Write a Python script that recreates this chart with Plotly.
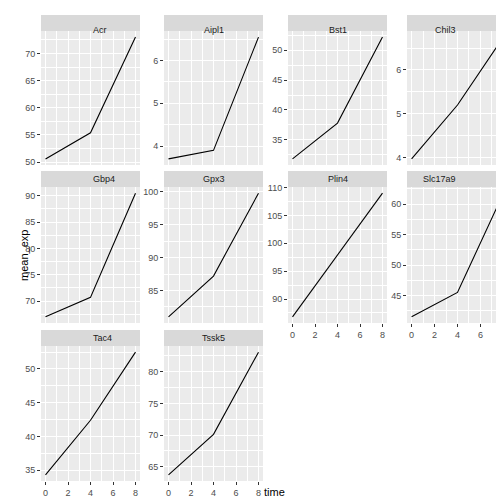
import plotly.graph_objects as go

# ==========================================
# Data
# ==========================================

time = [0, 4, 8]

genes = ["Acr", "Aipl1", "Bst1", "Chil3", "Gbp4",
         "Gpx3", "Plin4", "Slc17a9", "Tac4", "Tssk5"]

acr = [50.6, 55.4, 73.0]
aipl1 = [3.70, 3.90, 6.55]
bst1 = [31.8, 37.8, 52.2]
chil3 = [3.97, 5.20, 6.75]
gbp4 = [67.0, 70.7, 90.5]
gpx3 = [81.0, 87.2, 99.8]
plin4 = [86.8, 97.9, 109.0]
slc17a9 = [41.5, 45.5, 61.8]
tac4 = [34.3, 42.4, 52.5]
tssk5 = [63.7, 70.1, 83.1]

values = [acr, aipl1, bst1, chil3, gbp4, gpx3, plin4, slc17a9, tac4, tssk5]
y_step = [5, 1, 5, 1, 5, 5, 5, 5, 5, 5]

# ==========================================
# Layout (pixel boxes for each panel)
# ==========================================

W = 504
col_x = [(33, 132), (156, 255), (280, 379), (399, 500)]
row_y = [(23, 157), (179, 315), (338, 473)]
strip_h = 16

fig = go.Figure()


def px_x(p):
    return p / W


def px_y(p):
    return 1 - p / W


for i, (gene, vals) in enumerate(zip(genes, values)):
    r, c = divmod(i, 4)
    n = i + 1
    xa = "xaxis" if n == 1 else f"xaxis{n}"
    ya = "yaxis" if n == 1 else f"yaxis{n}"
    xr = "x" if n == 1 else f"x{n}"
    yr = "y" if n == 1 else f"y{n}"
    x0, x1 = col_x[c]
    y0, y1 = row_y[r]

    fig.add_trace(go.Scatter(
        x=time, y=vals, mode="lines",
        line=dict(color="black", width=1.1),
        xaxis=xr, yaxis=yr, showlegend=False
    ))

    lo, hi = min(vals), max(vals)
    pad = (hi - lo) * 0.05
    # x labels only on panels with nothing below them
    show_x = (r == 2) or (r == 1 and c >= 2)

    fig.layout[xa] = dict(
        domain=[px_x(x0), px_x(x1)], anchor=yr, automargin=False,
        range=[-0.4, 8.4], tickvals=[0, 2, 4, 6, 8],
        showticklabels=show_x, ticks="outside" if show_x else "",
        ticklen=3, tickcolor="#333333",
        gridcolor="white", gridwidth=1.1, zeroline=False,
        minor=dict(dtick=1, tick0=1, gridcolor="white", gridwidth=0.5),
        tickfont=dict(size=9, color="#4d4d4d"),
    )
    fig.layout[ya] = dict(
        domain=[px_y(y1), px_y(y0)], anchor=xr, automargin=False,
        range=[lo - pad, hi + pad], dtick=y_step[i],
        ticks="outside", ticklen=3, tickcolor="#333333",
        gridcolor="white", gridwidth=1.1, zeroline=False,
        minor=dict(dtick=y_step[i] / 2, gridcolor="white", gridwidth=0.5),
        tickfont=dict(size=9, color="#4d4d4d"),
    )

    # panel background
    fig.add_shape(type="rect", xref="paper", yref="paper", layer="below",
                  x0=px_x(x0), x1=px_x(x1), y0=px_y(y1), y1=px_y(y0),
                  fillcolor="#ebebeb", line_width=0)
    # strip
    fig.add_shape(type="rect", xref="paper", yref="paper",
                  x0=px_x(x0), x1=px_x(x1),
                  y0=px_y(y0), y1=px_y(y0 - strip_h),
                  fillcolor="#d9d9d9", line_width=0)
    fig.add_annotation(text=gene, xref="paper", yref="paper",
                       x=px_x((x0 + x1) / 2), y=px_y(y0 - strip_h / 2),
                       showarrow=False, font=dict(size=9, color="#1a1a1a"))

fig.add_annotation(text="time", xref="paper", yref="paper",
                   x=px_x(266), y=px_y(492), showarrow=False,
                   font=dict(size=11, color="black"))
fig.add_annotation(text="mean_exp", xref="paper", yref="paper",
                   x=px_x(8), y=px_y(248), showarrow=False, textangle=-90,
                   font=dict(size=11, color="black"))

fig.update_layout(
    width=504, height=504,
    margin=dict(l=0, r=0, t=0, b=0),
    paper_bgcolor="white", plot_bgcolor="rgba(0,0,0,0)",
    font=dict(family="Liberation Sans"),
)

fig.write_html("out.html")
